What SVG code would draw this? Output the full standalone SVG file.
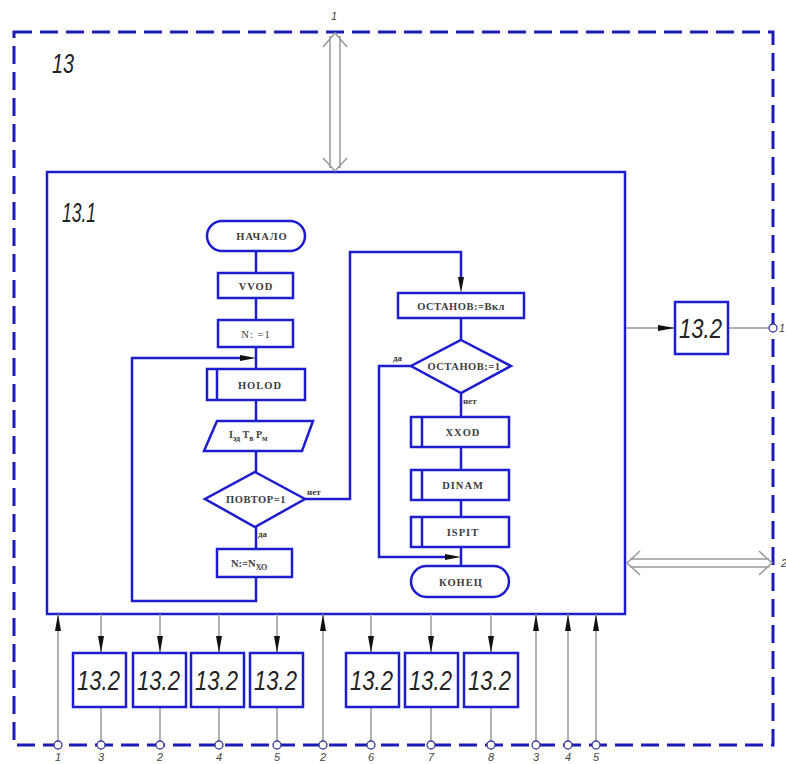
<svg xmlns="http://www.w3.org/2000/svg" width="786" height="764" viewBox="0 0 786 764">
<defs>
<marker id="ar" viewBox="0 0 17 6" refX="17" refY="3" markerWidth="17" markerHeight="6" markerUnits="userSpaceOnUse" orient="auto">
<path d="M0,0 L17,3 L0,6 Z" fill="#111"/>
</marker>
</defs>
<style>
.dash{fill:none;stroke:#1c1cb4;stroke-width:3;stroke-dasharray:18 8}
.blk{fill:#fff;stroke:#1c1cd0;stroke-width:2.5}
.fl{fill:none;stroke:#1c1cd0;stroke-width:2.5}
.cn{fill:none;stroke:#999;stroke-width:1.5}
.dbl{fill:none;stroke:#999;stroke-width:1.5}
.pin{fill:#fff;stroke:#3a3aa0;stroke-width:1.3}
.ft{font-family:"Liberation Serif",serif;font-weight:bold;font-size:10.5px;fill:#3c3c3c;text-anchor:middle;letter-spacing:1px}
.sm{font-family:"Liberation Serif",serif;font-weight:bold;font-size:9px;fill:#3c3c3c}
.big{font-family:"Liberation Sans",sans-serif;font-style:italic;font-size:28px;fill:#222}
.lb{font-family:"Liberation Sans",sans-serif;font-style:italic;font-size:11px;fill:#444;text-anchor:middle}
</style>
<rect id="outer" class="dash" x="14" y="32" width="759" height="713"/>
<text class="big" x="52" y="73" textLength="22" lengthAdjust="spacingAndGlyphs">13</text>
<g id="n13_1">
<rect class="blk" x="47" y="172" width="578" height="442" style="fill:none"/>
<text class="big" x="62" y="222" textLength="34" lengthAdjust="spacingAndGlyphs">13.1</text>
</g>
<g id="connectors">
<path class="dbl" d="M330,36 V168 M340,36 V168 M323,47 L335,33 L347,47 M323,158 L335,171 L347,158"/>
<path class="dbl" d="M630,559 H769 M630,567 H769 M640,551 L627,563 L640,575 M759,551 L772,563 L759,575"/>
<path class="cn" d="M626,328 H675" marker-end="url(#ar)"/>
<path class="cn" d="M728,328 H773"/>
<path class="cn" d="M58,745 V614" marker-end="url(#ar)"/>
<path class="cn" d="M323,745 V614" marker-end="url(#ar)"/>
<path class="cn" d="M536,745 V614" marker-end="url(#ar)"/>
<path class="cn" d="M568,745 V614" marker-end="url(#ar)"/>
<path class="cn" d="M596,745 V614" marker-end="url(#ar)"/>
<path class="cn" d="M101,614 V653" marker-end="url(#ar)"/>
<path class="cn" d="M160,614 V653" marker-end="url(#ar)"/>
<path class="cn" d="M219,614 V653" marker-end="url(#ar)"/>
<path class="cn" d="M277,614 V653" marker-end="url(#ar)"/>
<path class="cn" d="M371,614 V653" marker-end="url(#ar)"/>
<path class="cn" d="M431,614 V653" marker-end="url(#ar)"/>
<path class="cn" d="M491,614 V653" marker-end="url(#ar)"/>
<path class="cn" d="M101,707 V745 M160,707 V745 M219,707 V745 M277,707 V745 M371,707 V745 M431,707 V745 M491,707 V745"/>
<path class="fl" d="M256,251 V273 M256,298 V320 M256,347 V369 M256,400 V421 M256,451 V472 M256,527 V549"/>
<path class="fl" d="M256,577 V601 H132 V358 H242"/>
<path d="M256,358 L240,355 L240,361 Z" fill="#111"/>
<path class="fl" d="M305,499 H350 V252 H461 V279"/>
<path d="M461,293 L458,277 L464,277 Z" fill="#111"/>
<path class="fl" d="M461,318 V340 M461,393 V417 M461,447 V470 M461,500 V517 M461,547 V566"/>
<path class="fl" d="M411,366 H379 V557 H447"/>
<path d="M461,557 L445,554 L445,560 Z" fill="#111"/>
</g>
<g id="pins">
<circle class="pin" cx="773" cy="328" r="4"/>
<circle class="pin" cx="58" cy="745" r="4"/>
<circle class="pin" cx="101" cy="745" r="4"/>
<circle class="pin" cx="160" cy="745" r="4"/>
<circle class="pin" cx="219" cy="745" r="4"/>
<circle class="pin" cx="277" cy="745" r="4"/>
<circle class="pin" cx="323" cy="745" r="4"/>
<circle class="pin" cx="371" cy="745" r="4"/>
<circle class="pin" cx="431" cy="745" r="4"/>
<circle class="pin" cx="491" cy="745" r="4"/>
<circle class="pin" cx="536" cy="745" r="4"/>
<circle class="pin" cx="568" cy="745" r="4"/>
<circle class="pin" cx="596" cy="745" r="4"/>
</g>
<g id="labels">
<text class="lb" x="334" y="20">1</text>
<text class="lb" x="782" y="332">1</text>
<text class="lb" x="784" y="567">2</text>
<text class="lb" x="58" y="761">1</text>
<text class="lb" x="101" y="761">3</text>
<text class="lb" x="160" y="761">2</text>
<text class="lb" x="219" y="761">4</text>
<text class="lb" x="277" y="761">5</text>
<text class="lb" x="323" y="761">2</text>
<text class="lb" x="371" y="761">6</text>
<text class="lb" x="431" y="761">7</text>
<text class="lb" x="491" y="761">8</text>
<text class="lb" x="536" y="761">3</text>
<text class="lb" x="568" y="761">4</text>
<text class="lb" x="596" y="761">5</text>
</g>
<g id="b_right"><rect class="blk" x="675" y="302" width="53" height="52"/><text class="big" x="679" y="338" textLength="43" lengthAdjust="spacingAndGlyphs">13.2</text></g>
<g id="b1"><rect class="blk" x="73" y="653" width="53" height="54"/><text class="big" x="77" y="690" textLength="43" lengthAdjust="spacingAndGlyphs">13.2</text></g>
<g id="b2"><rect class="blk" x="133" y="653" width="53" height="54"/><text class="big" x="137" y="690" textLength="43" lengthAdjust="spacingAndGlyphs">13.2</text></g>
<g id="b3"><rect class="blk" x="191" y="653" width="53" height="54"/><text class="big" x="195" y="690" textLength="43" lengthAdjust="spacingAndGlyphs">13.2</text></g>
<g id="b4"><rect class="blk" x="250" y="653" width="53" height="54"/><text class="big" x="254" y="690" textLength="43" lengthAdjust="spacingAndGlyphs">13.2</text></g>
<g id="b5"><rect class="blk" x="346" y="653" width="53" height="54"/><text class="big" x="350" y="690" textLength="43" lengthAdjust="spacingAndGlyphs">13.2</text></g>
<g id="b6"><rect class="blk" x="405" y="653" width="53" height="54"/><text class="big" x="409" y="690" textLength="43" lengthAdjust="spacingAndGlyphs">13.2</text></g>
<g id="b7"><rect class="blk" x="464" y="653" width="54" height="54"/><text class="big" x="468" y="690" textLength="43" lengthAdjust="spacingAndGlyphs">13.2</text></g>
<g id="start"><rect class="blk" x="207" y="221" width="98" height="30" rx="15"/><text class="ft" x="262" y="240">НАЧАЛО</text></g>
<g id="vvod"><rect class="blk" x="218" y="273" width="75" height="25"/><text class="ft" x="256" y="290">VVOD</text></g>
<g id="n1"><rect class="blk" x="218" y="320" width="75" height="27"/><text class="ft" x="256" y="338" style="font-weight:normal">N: =1</text></g>
<g id="holod"><rect class="blk" x="207" y="369" width="98" height="31"/><path class="fl" d="M217,369 V400"/><text class="ft" x="260" y="389">HOLOD</text></g>
<g id="io"><path class="blk" d="M217,421 H313 L302,451 H204 Z"/><text class="sm" x="229" y="438" style="font-size:10px">I<tspan dy="3" font-size="8">эд</tspan><tspan dy="-3"> T</tspan><tspan dy="3" font-size="8">в</tspan><tspan dy="-3"> P</tspan><tspan dy="3" font-size="8">м</tspan></text></g>
<g id="povtor"><path class="blk" d="M255,472 L305,499 L255,527 L205,499 Z"/><text class="ft" x="256" y="503" style="letter-spacing:0.5px">ПОВТОР=1</text><text class="sm" x="307" y="495">нет</text><text class="sm" x="258" y="537">да</text></g>
<g id="nxo"><rect class="blk" x="217" y="549" width="75" height="28"/><text class="sm" x="231" y="567" style="font-size:10.5px">N:=N<tspan dy="3" font-size="8">ХО</tspan></text></g>
<g id="ostvkl"><rect class="blk" x="398" y="293" width="126" height="25"/><text class="ft" x="461" y="310" style="letter-spacing:0.5px">ОСТАНОВ:=Вкл</text></g>
<g id="ost1"><path class="blk" d="M461,340 L511,366 L461,393 L411,366 Z"/><text class="ft" x="464" y="370" style="letter-spacing:0.5px">ОСТАНОВ:=1</text><text class="sm" x="393" y="361">да</text><text class="sm" x="463" y="404">нет</text></g>
<g id="xxod"><rect class="blk" x="411" y="417" width="98" height="30"/><path class="fl" d="M422,417 V447"/><text class="ft" x="463" y="436">XXOD</text></g>
<g id="dinam"><rect class="blk" x="411" y="470" width="98" height="30"/><path class="fl" d="M422,470 V500"/><text class="ft" x="463" y="489">DINAM</text></g>
<g id="ispit"><rect class="blk" x="411" y="517" width="98" height="30"/><path class="fl" d="M422,517 V547"/><text class="ft" x="463" y="536">ISPIT</text></g>
<g id="end"><rect class="blk" x="411" y="566" width="98" height="31" rx="15.5"/><text class="ft" x="461" y="586">КОНЕЦ</text></g>
</svg>
